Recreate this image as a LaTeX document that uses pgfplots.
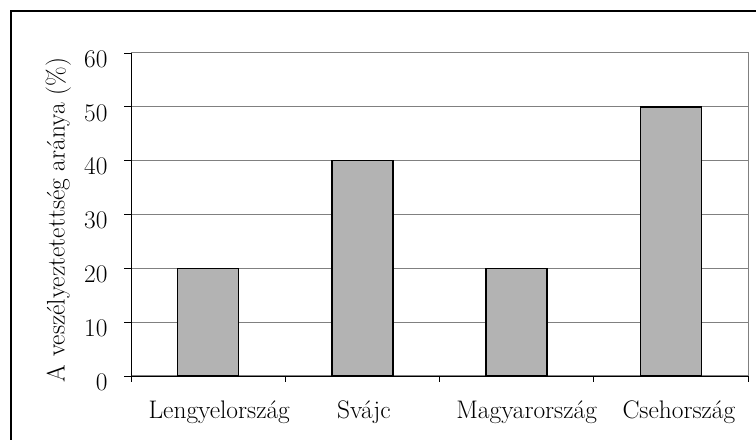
\documentclass[border=0pt]{standalone}
\usepackage{fontspec}
\usepackage{pgfplots}
\pgfplotsset{compat=1.18}
\definecolor{barfill}{RGB}{179,179,179}
\definecolor{gridc}{RGB}{128,128,128}
\begin{document}
\begin{tikzpicture}[x=1bp,y=1bp]
\useasboundingbox (0,0) rectangle (756,440);
\draw[line width=1.8bp] (11,-5) -- (11,429) -- (761,429);
\begin{axis}[
  at={(131bp,64bp)}, anchor=south west,
  scale only axis, width=617bp, height=323bp,
  xmin=-0.5, xmax=3.5, ymin=0, ymax=60,
  xtick={0.072,1.01,2.065,3.052},
  xticklabels={Lengyelország, Svájc, Magyarország, Csehország},
  major x tick style={draw=none},
  minor xtick={-0.5,0.5,1.5,2.5,3.5},
  minor x tick style={black, line width=0.8bp},
  minor tick length=6bp,
  ytick={0,10,...,60},
  major tick length=7bp,
  tick align=outside,
  tick pos=left,
  ymajorgrids,
  grid style={gridc, line width=1bp},
  axis background/.style={draw=gridc, line width=1bp},
  axis x line*=bottom, axis y line*=left,
  axis line style={black, line width=0.9bp, -},
  y tick style={black, line width=0.8bp},
  /pgf/number format/assume math mode=true,
  tick label style={font=\fontsize{25.5}{30}\selectfont},
  yticklabel style={xshift=-13bp, yshift=-6bp},
  xticklabel style={yshift=-14bp},
  ylabel={A veszélyeztetettség aránya (\%)},
  ylabel style={font=\fontsize{25.5}{30}\selectfont, at={(axis description cs:-0.118,0.483)}, anchor=center},
  ybar, bar width=0.395,
]
\addplot[fill=barfill, draw=black, line width=1.4bp] coordinates {(0,20) (1,40) (2,20) (3,50)};
\end{axis}
\end{tikzpicture}
\end{document}
